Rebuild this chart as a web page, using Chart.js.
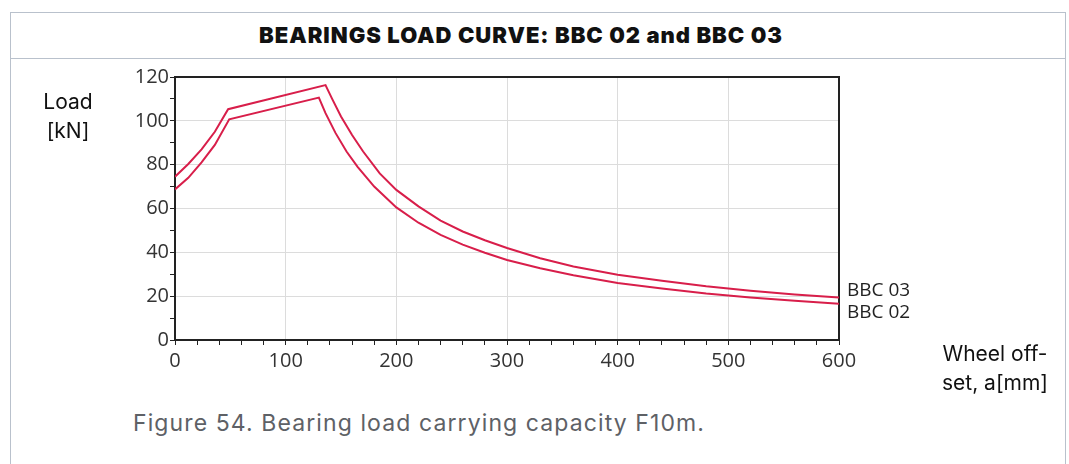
<!DOCTYPE html>
<html>
<head>
<meta charset="utf-8">
<script src="https://cdn.jsdelivr.net/npm/chart.js@4.4.1/dist/chart.umd.min.js"></script>
<style>
  html, body { margin: 0; padding: 0; background: #fff; }
  body { width: 1069px; height: 464px; position: relative; overflow: hidden; font-family: Inter, 'Open Sans', sans-serif; }
  .frame { position: absolute; left: 10px; top: 12px; width: 1056px; height: 470px; border: 1.5px solid #b9c1cc; border-bottom: none; box-sizing: border-box; }
  .title { position: absolute; left: 0; top: 0; width: 100%; height: 45px; border-bottom: 1.5px solid #b9c1cc; }
  .title span { position: absolute; left: 510px; top: 9px; transform: translateX(-50%); white-space: nowrap; font-family: Inter, sans-serif; font-weight: 900; font-size: 22px; letter-spacing: 1px; color: #111; }
  .chart-box { position: absolute; left: 0; top: 58px; width: 1069px; height: 340px; }
  .ylab { position: absolute; left: 28px; top: 87px; width: 80px; text-align: center; font-size: 21px; line-height: 29px; color: #111; }
  .xlab { position: absolute; left: 928px; top: 339px; width: 134px; text-align: center; font-size: 21px; line-height: 29px; color: #111; }
  .caption { position: absolute; left: 133px; top: 409px; font-size: 23px; letter-spacing: 1.1px; color: #5e6166; white-space: nowrap; }
</style>
</head>
<body>
<div class="frame"><div class="title"><span>BEARINGS LOAD CURVE: BBC 02 and BBC 03</span></div></div>
<div class="chart-box"><canvas id="loadCurve"></canvas></div>
<div class="ylab">Load<br>[kN]</div>
<div class="xlab">Wheel off-<br>set, a[mm]</div>
<div class="caption">Figure 54. Bearing load carrying capacity F10m.</div>
<script>
// wheel offset a [mm] and load [kN]
const bbc03Offset = [0, 12, 24, 36, 48, 136, 142, 150, 160, 170, 185, 200, 220, 240, 260, 280, 300, 330, 360, 400, 440, 480, 520, 560, 600];
const bbc03Load   = [74.5, 80.3, 87, 95, 105.3, 116.3, 110, 102, 93.5, 86, 76, 68.5, 61, 54.5, 49.5, 45.5, 42, 37.3, 33.5, 29.8, 27, 24.5, 22.5, 20.8, 19.4];

const bbc02Offset = [0, 12, 24, 36, 49, 130, 136, 145, 155, 165, 180, 200, 220, 240, 260, 280, 300, 330, 360, 400, 440, 480, 520, 560, 600];
const bbc02Load   = [68.7, 74, 81, 89, 100.7, 110.6, 103.5, 94.5, 86, 79, 70, 60.5, 53.5, 48, 43.5, 39.8, 36.5, 32.7, 29.5, 26, 23.5, 21.2, 19.4, 17.9, 16.5];

const seriesNames = ['BBC 03', 'BBC 02'];
const xMax = 600, xStep = 20, xLabelStep = 100;
const yMax = 120, yStep = 10, yLabelStep = 20;

const LINE = '#d81e4a';
const AXIS = '#222';
const GRID = '#dcdcdc';

const toPoints = (xs, ys) => xs.map((x, i) => ({ x, y: ys[i] }));

// curve names written at the right end of each curve
const endLabels = {
  id: 'endLabels',
  afterDatasetsDraw(chart) {
    const { ctx, chartArea, scales } = chart;
    const shift = [-7, 9];
    ctx.save();
    ctx.font = '19px "Open Sans"';
    ctx.fillStyle = '#222';
    ctx.textAlign = 'left';
    ctx.textBaseline = 'middle';
    chart.data.datasets.forEach((ds, i) => {
      const last = ds.data[ds.data.length - 1];
      ctx.fillText(ds.label, chartArea.right + 8, scales.y.getPixelForValue(last.y) + shift[i]);
    });
    ctx.restore();
  }
};

const tickFont = { family: 'Open Sans', size: 20 };

new Chart(document.getElementById('loadCurve'), {
  type: 'line',
  data: {
    datasets: [
      { label: seriesNames[0], data: toPoints(bbc03Offset, bbc03Load) },
      { label: seriesNames[1], data: toPoints(bbc02Offset, bbc02Load) }
    ]
  },
  options: {
    responsive: true,
    maintainAspectRatio: false,
    animation: false,
    events: [],
    layout: { padding: { left: 0, right: 230, top: 19, bottom: 0 } },
    elements: {
      line: { borderColor: LINE, borderWidth: 2, tension: 0, fill: false },
      point: { radius: 0 }
    },
    plugins: { legend: { display: false }, tooltip: { enabled: false } },
    scales: {
      x: {
        type: 'linear', position: 'bottom', min: 0, max: xMax,
        afterFit: s => { s.height = 58; },
        ticks: {
          stepSize: xStep, autoSkip: false, maxRotation: 0, padding: 4,
          color: '#333', font: tickFont,
          callback: v => (v % xLabelStep === 0 ? v : '')
        },
        grid: {
          color: c => (c.tick && c.tick.value % xLabelStep === 0 && c.tick.value > 0 && c.tick.value < xMax) ? GRID : 'rgba(0,0,0,0)',
          tickColor: AXIS, tickLength: 5, tickWidth: 1
        },
        border: { color: AXIS, width: 2 }
      },
      xTop: {
        type: 'linear', axis: 'x', position: 'top', min: 0, max: xMax,
        afterFit: s => { s.height = 0; },
        ticks: { display: false },
        grid: { drawOnChartArea: false, drawTicks: false },
        border: { color: AXIS, width: 2 }
      },
      y: {
        type: 'linear', position: 'left', min: 0, max: yMax,
        afterFit: s => { s.width = 175; },
        ticks: {
          stepSize: yStep, autoSkip: false, padding: 1,
          color: '#333', font: tickFont,
          callback: v => (v % yLabelStep === 0 ? v : '')
        },
        grid: {
          color: c => (c.tick && c.tick.value % yLabelStep === 0 && c.tick.value > 0 && c.tick.value < yMax) ? GRID : 'rgba(0,0,0,0)',
          tickColor: AXIS, tickLength: 5, tickWidth: 1
        },
        border: { color: AXIS, width: 2 }
      },
      yRight: {
        type: 'linear', axis: 'y', position: 'right', min: 0, max: yMax,
        afterFit: s => { s.width = 0; },
        ticks: { display: false },
        grid: { drawOnChartArea: false, drawTicks: false },
        border: { color: AXIS, width: 2 }
      }
    }
  },
  plugins: [endLabels]
});
</script>
</body>
</html>
